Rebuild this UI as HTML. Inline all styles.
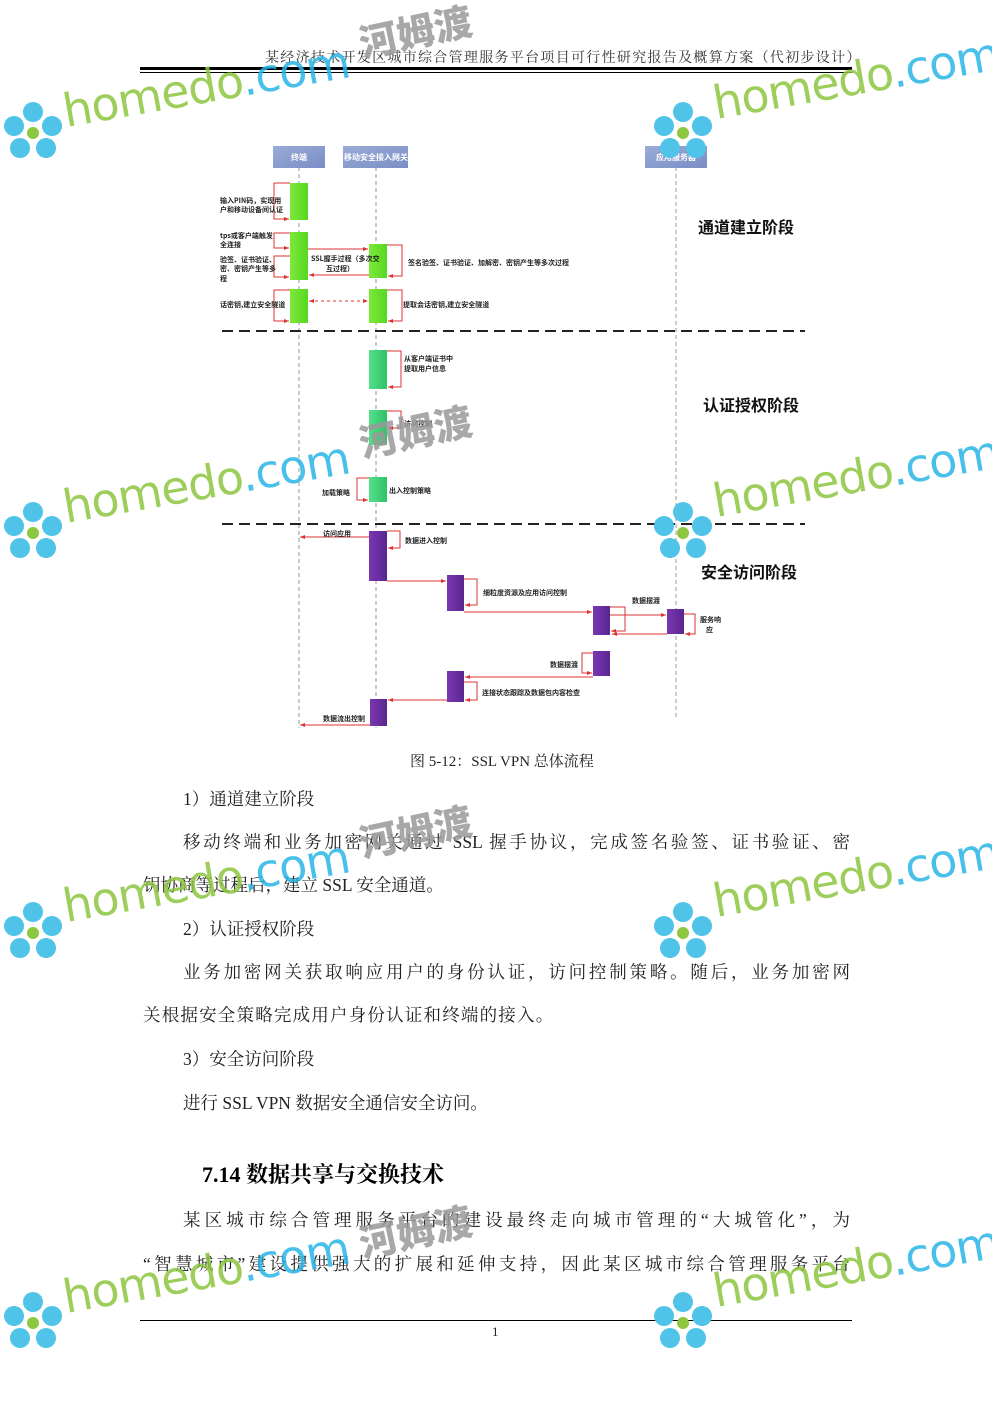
<!DOCTYPE html>
<html><head><meta charset="utf-8"><style>
body{margin:0;width:992px;height:1403px;background:#fff;position:relative;overflow:hidden;font-family:"Liberation Serif","Noto Serif CJK SC",serif;}
.a{position:absolute;white-space:nowrap;}
.p{position:absolute;font-size:17.5px;color:#222;white-space:nowrap;}
.j{text-align:justify;text-align-last:justify;}
.wm{position:absolute;font-family:"DejaVu Sans",sans-serif;font-size:46px;letter-spacing:-1px;transform:rotate(-10deg);transform-origin:left bottom;white-space:nowrap;opacity:.85}
.wm b{color:#8dc63f;font-weight:normal}
.wm i{color:#29b6e6;font-style:normal}
.fl{position:absolute;width:62px;height:62px;}
.hm{position:absolute;font-family:"Noto Sans CJK SC",sans-serif;font-weight:900;font-size:38px;color:#9a9a9a;transform:rotate(-12deg);opacity:.85}
</style></head><body>
<div class="a" style="left:265px;top:47px;font-size:14px;color:#333;letter-spacing:1.3px">某经济技术开发区城市综合管理服务平台项目可行性研究报告及概算方案（代初步设计）</div>
<div class="a" style="left:140px;top:67px;width:712px;height:3px;background:#000"></div>
<div class="a" style="left:140px;top:72px;width:712px;height:1px;background:#000"></div>

<svg class="a" style="left:0;top:0" width="992" height="760" font-family="Noto Sans CJK SC,sans-serif" font-weight="bold">
<defs>
<linearGradient id="g" x1="0" x2="1"><stop offset="0" stop-color="#7ee83a"/><stop offset="1" stop-color="#55d820"/></linearGradient>
<linearGradient id="t" x1="0" x2="1"><stop offset="0" stop-color="#52e08a"/><stop offset="1" stop-color="#2fc268"/></linearGradient>
<linearGradient id="pu" x1="0" x2="1"><stop offset="0" stop-color="#7a38b0"/><stop offset="1" stop-color="#5a2590"/></linearGradient>
<linearGradient id="hb" y1="0" y2="1"><stop offset="0" stop-color="#9aabd6"/><stop offset="1" stop-color="#7a8ec6"/></linearGradient>
</defs>
<g stroke="#999" stroke-dasharray="4,3" stroke-width="1"><line x1="299" y1="167" x2="299" y2="728"/><line x1="376" y1="167" x2="376" y2="728"/><line x1="676" y1="167" x2="676" y2="718"/></g>
<g stroke="#222" stroke-width="2" stroke-dasharray="11,6"><line x1="222" y1="331" x2="805" y2="331"/><line x1="222" y1="524" x2="805" y2="524"/></g>
<rect x="273" y="146" width="52" height="22" fill="url(#hb)"/><rect x="343" y="146" width="65" height="22" fill="url(#hb)"/><rect x="645" y="146" width="62" height="22" fill="url(#hb)"/>
<g fill="#fff" font-size="8" text-anchor="middle"><text x="299" y="160">终端</text><text x="376" y="160">移动安全接入网关</text><text x="676" y="160">应用服务器</text></g>
<g fill="url(#g)"><rect x="290" y="183" width="18" height="37"/><rect x="290" y="232" width="18" height="48"/><rect x="290" y="289" width="18" height="34"/><rect x="369" y="244" width="18" height="34"/><rect x="369" y="289" width="18" height="34"/></g>
<g fill="url(#t)"><rect x="369" y="350" width="18" height="39"/><rect x="369" y="410" width="18" height="35"/><rect x="369" y="477" width="18" height="25"/></g>
<g fill="url(#pu)"><rect x="369" y="531" width="18" height="50"/><rect x="447" y="575" width="17" height="36"/><rect x="593" y="606" width="17" height="29"/><rect x="667" y="609" width="17" height="25"/><rect x="593" y="651" width="17" height="25"/><rect x="447" y="671" width="17" height="31"/><rect x="370" y="699" width="17" height="27"/></g>
<g fill="none" stroke="#d33" stroke-width="1">
<polyline points="290,183 274,183 274,219 289,219"/><polyline points="290,233 274,233 274,248 289,248"/><polyline points="290,256 274,256 274,277 289,277"/><polyline points="290,290 274,290 274,321 289,321"/>
<line x1="308" y1="249" x2="368" y2="249"/><line x1="369" y1="275" x2="309" y2="275"/>
<polyline points="387,245 402,245 402,276 388,276"/><polyline points="387,290 402,290 402,321 388,321"/>
<line x1="309" y1="301" x2="368" y2="301" stroke-dasharray="3,3"/>
<polyline points="387,351 401,351 401,387 388,387"/><polyline points="387,411 401,411 401,428 388,428"/><polyline points="369,478 357,478 357,500 368,500"/>
<line x1="369" y1="537" x2="300" y2="537"/><polyline points="387,531 400,531 400,548 388,548"/>
<line x1="387" y1="581" x2="446" y2="581"/><polyline points="464,579 477,579 477,605 465,605"/>
<line x1="464" y1="612" x2="592" y2="612"/><polyline points="610,607 625,607 625,631 611,631"/>
<line x1="610" y1="615" x2="666" y2="615"/><line x1="667" y1="634" x2="612" y2="634"/><polyline points="684,614 695,614 695,634 685,634"/>
<polyline points="593,653 582,653 582,673 592,673"/><line x1="593" y1="677" x2="465" y2="677"/><polyline points="464,682 477,682 477,700 465,700"/>
<line x1="447" y1="700" x2="388" y2="700"/><line x1="370" y1="725" x2="300" y2="725"/>
</g>
<g fill="#d33"><path d="M289,219l-5,-2v4z"/><path d="M289,248l-5,-2v4z"/><path d="M289,277l-5,-2v4z"/><path d="M289,321l-5,-2v4z"/><path d="M368,249l-5,-2v4z"/><path d="M309,275l5,-2v4z"/><path d="M388,276l5,-2v4z"/><path d="M388,321l5,-2v4z"/><path d="M368,301l-5,-2v4z"/><path d="M309,301l5,-2v4z"/><path d="M388,387l5,-2v4z"/><path d="M388,428l5,-2v4z"/><path d="M368,500l-5,-2v4z"/><path d="M300,537l5,-2v4z"/><path d="M388,548l5,-2v4z"/><path d="M446,581l-5,-2v4z"/><path d="M465,605l5,-2v4z"/><path d="M592,612l-5,-2v4z"/><path d="M611,631l5,-2v4z"/><path d="M666,615l-5,-2v4z"/><path d="M612,634l5,-2v4z"/><path d="M685,634l5,-2v4z"/><path d="M592,673l-5,-2v4z"/><path d="M465,677l5,-2v4z"/><path d="M465,700l5,-2v4z"/><path d="M388,700l5,-2v4z"/><path d="M300,725l5,-2v4z"/></g>
<g fill="#222" font-size="7">
<text x="220" y="203">输入PIN码，实现用</text><text x="220" y="212">户和移动设备间认证</text>
<text x="220" y="238">tps或客户端触发</text><text x="220" y="247">全连接</text>
<text x="220" y="262">验签、证书验证、</text><text x="220" y="271">密、密钥产生等多</text><text x="220" y="281">程</text>
<text x="220" y="307">话密钥,建立安全隧道</text>
<text x="311" y="261">SSL握手过程（多次交</text><text x="326" y="271">互过程）</text>
<text x="408" y="265">签名验签、证书验证、加解密、密钥产生等多次过程</text>
<text x="403" y="307">提取会话密钥,建立安全隧道</text>
<text x="404" y="361">从客户端证书中</text><text x="404" y="371">提取用户信息</text>
<text x="404" y="426">访问控制</text><text x="322" y="495">加载策略</text><text x="389" y="493">出入控制策略</text>
<text x="323" y="536">访问应用</text><text x="405" y="543">数据进入控制</text>
<text x="483" y="595">细粒度资源及应用访问控制</text><text x="632" y="603">数据摆渡</text>
<text x="700" y="622">服务响</text><text x="706" y="632">应</text>
<text x="550" y="667">数据摆渡</text><text x="482" y="695">连接状态跟踪及数据包内容检查</text>
<text x="323" y="721">数据流出控制</text>
</g>
<g fill="#111" font-size="16"><text x="698" y="233">通道建立阶段</text><text x="703" y="411">认证授权阶段</text><text x="701" y="578">安全访问阶段</text></g>
</svg>

<div class="p" style="left:410px;top:750px;font-size:15px">图 5-12：SSL VPN 总体流程</div>
<div class="p" style="left:183px;top:786px">1）通道建立阶段</div>
<div class="p j" style="left:183px;top:829px;width:667px">移动终端和业务加密网关通过 SSL 握手协议，完成签名验签、证书验证、密</div>
<div class="p" style="left:143px;top:872px">钥协商等过程后，建立 SSL 安全通道。</div>
<div class="p" style="left:183px;top:916px">2）认证授权阶段</div>
<div class="p j" style="left:183px;top:959px;width:667px">业务加密网关获取响应用户的身份认证，访问控制策略。随后，业务加密网</div>
<div class="p" style="left:143px;top:1002px;letter-spacing:1.2px">关根据安全策略完成用户身份认证和终端的接入。</div>
<div class="p" style="left:183px;top:1046px">3）安全访问阶段</div>
<div class="p" style="left:183px;top:1090px">进行 SSL VPN 数据安全通信安全访问。</div>
<div class="p" style="left:202px;top:1158px;font-size:22px;font-weight:bold;color:#000">7.14 数据共享与交换技术</div>
<div class="p j" style="left:183px;top:1207px;width:667px">某区城市综合管理服务平台的建设最终走向城市管理的“大城管化”，为</div>
<div class="p j" style="left:143px;top:1251px;width:707px">“智慧城市”建设提供强大的扩展和延伸支持，因此某区城市综合管理服务平台</div>
<div class="a" style="left:140px;top:1320px;width:712px;height:1px;background:#000"></div>
<div class="p" style="left:492px;top:1324px;font-size:13px">1</div>

<div class="hm" style="left:358px;top:2px">河姆渡</div>
<div class="hm" style="left:358px;top:402px">河姆渡</div>
<div class="hm" style="left:358px;top:802px">河姆渡</div>
<div class="hm" style="left:358px;top:1202px">河姆渡</div>
<svg class="fl" style="left:2px;top:100px" viewBox="0 0 62 62"><g fill="#4fc3e8"><circle cx="31" cy="12" r="10"/><circle cx="12" cy="26" r="10"/><circle cx="50" cy="26" r="10"/><circle cx="18" cy="48" r="10"/><circle cx="44" cy="48" r="10"/></g><circle cx="31" cy="33" r="6" fill="#8dc63f"/></svg>
<svg class="fl" style="left:652px;top:100px" viewBox="0 0 62 62"><g fill="#4fc3e8"><circle cx="31" cy="12" r="10"/><circle cx="12" cy="26" r="10"/><circle cx="50" cy="26" r="10"/><circle cx="18" cy="48" r="10"/><circle cx="44" cy="48" r="10"/></g><circle cx="31" cy="33" r="6" fill="#8dc63f"/></svg>
<svg class="fl" style="left:2px;top:500px" viewBox="0 0 62 62"><g fill="#4fc3e8"><circle cx="31" cy="12" r="10"/><circle cx="12" cy="26" r="10"/><circle cx="50" cy="26" r="10"/><circle cx="18" cy="48" r="10"/><circle cx="44" cy="48" r="10"/></g><circle cx="31" cy="33" r="6" fill="#8dc63f"/></svg>
<svg class="fl" style="left:652px;top:500px" viewBox="0 0 62 62"><g fill="#4fc3e8"><circle cx="31" cy="12" r="10"/><circle cx="12" cy="26" r="10"/><circle cx="50" cy="26" r="10"/><circle cx="18" cy="48" r="10"/><circle cx="44" cy="48" r="10"/></g><circle cx="31" cy="33" r="6" fill="#8dc63f"/></svg>
<svg class="fl" style="left:2px;top:900px" viewBox="0 0 62 62"><g fill="#4fc3e8"><circle cx="31" cy="12" r="10"/><circle cx="12" cy="26" r="10"/><circle cx="50" cy="26" r="10"/><circle cx="18" cy="48" r="10"/><circle cx="44" cy="48" r="10"/></g><circle cx="31" cy="33" r="6" fill="#8dc63f"/></svg>
<svg class="fl" style="left:652px;top:900px" viewBox="0 0 62 62"><g fill="#4fc3e8"><circle cx="31" cy="12" r="10"/><circle cx="12" cy="26" r="10"/><circle cx="50" cy="26" r="10"/><circle cx="18" cy="48" r="10"/><circle cx="44" cy="48" r="10"/></g><circle cx="31" cy="33" r="6" fill="#8dc63f"/></svg>
<svg class="fl" style="left:2px;top:1290px" viewBox="0 0 62 62"><g fill="#4fc3e8"><circle cx="31" cy="12" r="10"/><circle cx="12" cy="26" r="10"/><circle cx="50" cy="26" r="10"/><circle cx="18" cy="48" r="10"/><circle cx="44" cy="48" r="10"/></g><circle cx="31" cy="33" r="6" fill="#8dc63f"/></svg>
<svg class="fl" style="left:652px;top:1290px" viewBox="0 0 62 62"><g fill="#4fc3e8"><circle cx="31" cy="12" r="10"/><circle cx="12" cy="26" r="10"/><circle cx="50" cy="26" r="10"/><circle cx="18" cy="48" r="10"/><circle cx="44" cy="48" r="10"/></g><circle cx="31" cy="33" r="6" fill="#8dc63f"/></svg>
<div class="wm" style="left:68px;top:84px"><b>homedo</b><i>.com</i></div>
<div class="wm" style="left:718px;top:76px"><b>homedo</b><i>.com</i></div>
<div class="wm" style="left:68px;top:480px"><b>homedo</b><i>.com</i></div>
<div class="wm" style="left:718px;top:474px"><b>homedo</b><i>.com</i></div>
<div class="wm" style="left:68px;top:879px"><b>homedo</b><i>.com</i></div>
<div class="wm" style="left:718px;top:874px"><b>homedo</b><i>.com</i></div>
<div class="wm" style="left:68px;top:1270px"><b>homedo</b><i>.com</i></div>
<div class="wm" style="left:718px;top:1264px"><b>homedo</b><i>.com</i></div>
</body></html>
